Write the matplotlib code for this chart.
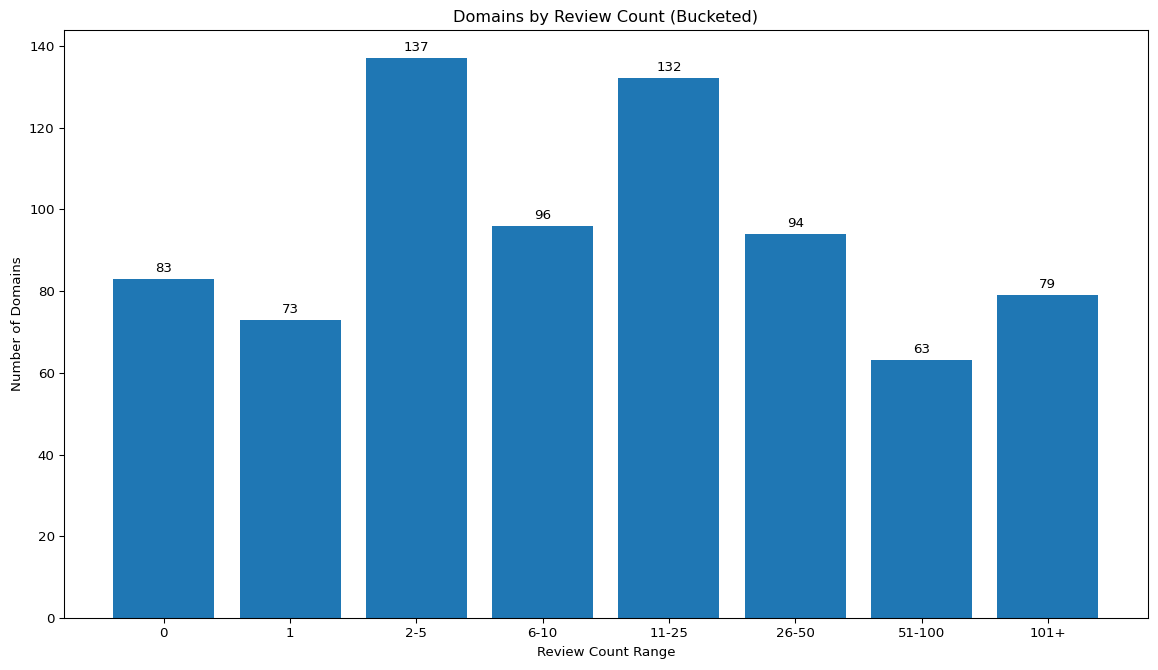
import matplotlib
matplotlib.use('Agg')
import matplotlib.pyplot as plt

buckets = ['0', '1', '2-5', '6-10', '11-25', '26-50', '51-100', '101+']
domain_counts = [83, 73, 137, 96, 132, 94, 63, 79]

fig, ax = plt.subplots(figsize=(12, 670 / 96.5), dpi=96.5)
bars = ax.bar(buckets, domain_counts, color='#1f77b4')
for bar, value in zip(bars, domain_counts):
    ax.annotate(str(value), xy=(bar.get_x() + bar.get_width() / 2, bar.get_height()),
                xytext=(0, 3), textcoords='offset points', ha='center', va='bottom')

ax.set_title('Domains by Review Count (Bucketed)')
ax.set_xlabel('Review Count Range')
ax.set_ylabel('Number of Domains')
fig.subplots_adjust(left=0.0553, right=0.991, top=0.9552, bottom=0.0776)
fig.savefig('out.png', dpi=96.5)
plt.close()
